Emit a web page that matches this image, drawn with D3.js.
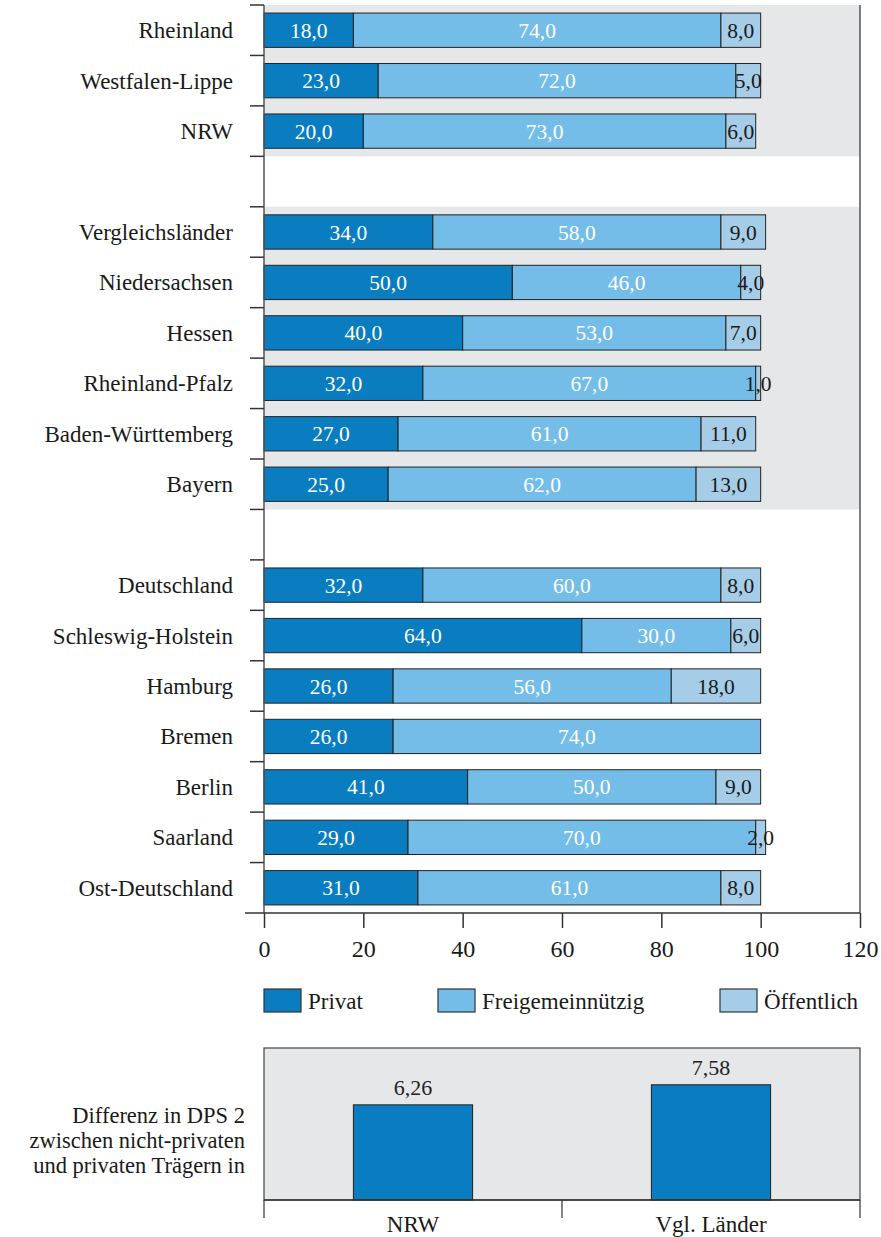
<!DOCTYPE html>
<html>
<head>
<meta charset="utf-8">
<script src="https://cdn.jsdelivr.net/npm/d3@7"></script>
<style>
  body { margin: 0; background: #fff; }
  svg text { font-family: "Liberation Serif", "Times New Roman", serif; }
</style>
</head>
<body>
<svg class="chart" width="881" height="1237"></svg>
<script>
// rows of the stacked chart, "" = empty spacer row
var categories = ["Rheinland", "Westfalen-Lippe", "NRW", "",
  "Vergleichsländer", "Niedersachsen", "Hessen", "Rheinland-Pfalz", "Baden-Württemberg", "Bayern", "",
  "Deutschland", "Schleswig-Holstein", "Hamburg", "Bremen", "Berlin", "Saarland", "Ost-Deutschland"];

var privat =     [18, 23, 20, null, 34, 50, 40, 32, 27, 25, null, 32, 64, 26, 26, 41, 29, 31];
var freigem =    [74, 72, 73, null, 58, 46, 53, 67, 61, 62, null, 60, 30, 56, 74, 50, 70, 61];
var oeffentlich = [8, 5, 6, null, 9, 4, 7, 1, 11, 13, null, 8, 6, 18, 0, 9, 2, 8];

var seriesNames = ["Privat", "Freigemeinnützig", "Öffentlich"];
var xTicks = [0, 20, 40, 60, 80, 100, 120];

// shaded groups (first and last row of each)
var shadedGroups = [["Rheinland", "NRW"], ["Vergleichsländer", "Bayern"]];

// lower chart
var diffCats = ["NRW", "Vgl. Länder"];
var diffValues = [6.26, 7.58];
var diffLabel = ["Differenz in DPS 2", "zwischen nicht-privaten", "und privaten Trägern in"];

var colors = ["#0a7dc0", "#74bde8", "#a6cde8"];
var fmt = function(v) { return v.toFixed(1).replace(".", ","); };

var svg = d3.select(".chart");

var pLeft = 264, pRight = 860, pTop = 5, pBottom = 913;

var x = d3.scaleLinear().domain([0, 120]).range([pLeft, pRight]);

var rowKeys = categories.map(function(d, i) { return i; });
var y = d3.scaleBand().domain(rowKeys).range([pTop, pBottom]).paddingInner(0.32).paddingOuter(0.16);
var step = y.step();
var rowTop = function(i) { return pTop + i * step; };

// grey backgrounds
shadedGroups.forEach(function(g) {
  var a = categories.indexOf(g[0]), b = categories.indexOf(g[1]);
  svg.append("rect")
    .attr("x", pLeft).attr("y", rowTop(a))
    .attr("width", pRight - pLeft).attr("height", rowTop(b + 1) - rowTop(a))
    .attr("fill", "#e6e7e9");
});

// stack data
var rows = categories.map(function(c, i) {
  return { name: c, i: i, vals: [privat[i], freigem[i], oeffentlich[i]] };
}).filter(function(d) { return d.name !== ""; });

var segs = [];
rows.forEach(function(r) {
  var acc = 0;
  r.vals.forEach(function(v, k) {
    segs.push({ i: r.i, k: k, x0: acc, x1: acc + v, v: v });
    acc += v;
  });
});

var seg = svg.selectAll("g.seg")
    .data(segs.filter(function(d) { return d.v > 0; }))
  .enter().append("g").attr("class", "seg");

seg.append("rect")
    .attr("x", function(d) { return x(d.x0); })
    .attr("y", function(d) { return y(d.i); })
    .attr("width", function(d) { return x(d.x1) - x(d.x0); })
    .attr("height", y.bandwidth())
    .attr("fill", function(d) { return colors[d.k]; })
    .attr("stroke", "#222")
    .attr("stroke-width", 1);

seg.append("text")
    .attr("x", function(d) { return (x(d.x0) + x(d.x1)) / 2; })
    .attr("y", function(d) { return y(d.i) + y.bandwidth() / 2; })
    .attr("dy", ".35em")
    .attr("text-anchor", "middle")
    .attr("font-size", 21.5)
    .attr("fill", function(d) { return d.k < 2 ? "#fff" : "#1a1a1a"; })
    .text(function(d) { return fmt(d.v); });

// category labels
svg.selectAll("text.cat")
    .data(rows)
  .enter().append("text")
    .attr("class", "cat")
    .attr("x", 233)
    .attr("y", function(d) { return y(d.i) + y.bandwidth() / 2; })
    .attr("dy", ".35em")
    .attr("text-anchor", "end")
    .attr("font-size", 23)
    .attr("fill", "#1a1a1a")
    .text(function(d) { return d.name; });

// left axis with ticks at row borders
svg.append("line").attr("x1", pLeft).attr("x2", pLeft).attr("y1", pTop).attr("y2", pBottom)
  .attr("stroke", "#555").attr("stroke-width", 1.5);
svg.append("line").attr("x1", pRight).attr("x2", pRight).attr("y1", pTop).attr("y2", pBottom)
  .attr("stroke", "#555").attr("stroke-width", 1.5);
svg.selectAll("line.rowtick")
    .data(d3.range(categories.length))
  .enter().append("line")
    .attr("x1", 250).attr("x2", pLeft)
    .attr("y1", function(i) { return rowTop(i); })
    .attr("y2", function(i) { return rowTop(i); })
    .attr("stroke", "#333").attr("stroke-width", 1.5);

// bottom axis
var xAxis = svg.append("g").attr("transform", "translate(0," + pBottom + ")")
  .call(d3.axisBottom(x).tickValues(xTicks).tickSize(15).tickPadding(12).tickFormat(d3.format("d")));
xAxis.select(".domain").remove();
xAxis.append("line").attr("x1", 245).attr("x2", pRight).attr("stroke", "#333").attr("stroke-width", 1.5);
xAxis.selectAll(".tick line").attr("stroke", "#333").attr("stroke-width", 1.5);
xAxis.selectAll(".tick text").attr("font-size", 24).attr("fill", "#1a1a1a")
  .attr("font-family", "Liberation Serif, serif");

// legend
var legendX = [264, 438, 720];
var lg = svg.selectAll("g.legend")
    .data(seriesNames)
  .enter().append("g").attr("class", "legend")
    .attr("transform", function(d, i) { return "translate(" + legendX[i] + ",989)"; });
lg.append("rect").attr("width", 37).attr("height", 23)
  .attr("fill", function(d, i) { return colors[i]; })
  .attr("stroke", "#333").attr("stroke-width", 1.2);
lg.append("text").attr("x", 44).attr("y", 12).attr("dy", ".35em")
  .attr("font-size", 23).attr("fill", "#1a1a1a")
  .text(function(d) { return d; });

// lower chart
var bTop = 1048, bBottom = 1200;
var bx = d3.scaleBand().domain(diffCats).range([pLeft, pRight]).paddingInner(0.6).paddingOuter(0.3);
var by = d3.scaleLinear().domain([0, 10]).range([bBottom, bTop]);

svg.append("rect").attr("x", pLeft).attr("y", bTop)
  .attr("width", pRight - pLeft).attr("height", bBottom - bTop)
  .attr("fill", "#e6e7e9").attr("stroke", "#444").attr("stroke-width", 1.2);

svg.selectAll("rect.diff")
    .data(diffValues)
  .enter().append("rect").attr("class", "diff")
    .attr("x", function(d, i) { return bx(diffCats[i]); })
    .attr("y", function(d) { return by(d); })
    .attr("width", bx.bandwidth())
    .attr("height", function(d) { return bBottom - by(d); })
    .attr("fill", colors[0]).attr("stroke", "#222").attr("stroke-width", 1);

svg.selectAll("text.diffval")
    .data(diffValues)
  .enter().append("text").attr("class", "diffval")
    .attr("x", function(d, i) { return bx(diffCats[i]) + bx.bandwidth() / 2; })
    .attr("y", function(d) { return by(d) - 10; })
    .attr("text-anchor", "middle")
    .attr("font-size", 22).attr("fill", "#222")
    .text(function(d) { return d.toFixed(2).replace(".", ","); });

svg.append("line").attr("x1", pLeft).attr("x2", pRight).attr("y1", bBottom).attr("y2", bBottom)
  .attr("stroke", "#333").attr("stroke-width", 1.5);
svg.selectAll("line.bt")
    .data([pLeft, (pLeft + pRight) / 2, pRight])
  .enter().append("line")
    .attr("x1", function(d) { return d; }).attr("x2", function(d) { return d; })
    .attr("y1", bBottom).attr("y2", bBottom + 18)
    .attr("stroke", "#333").attr("stroke-width", 1.2);

svg.selectAll("text.bcat")
    .data(diffCats)
  .enter().append("text").attr("class", "bcat")
    .attr("x", function(d) { return bx(d) + bx.bandwidth() / 2; })
    .attr("y", 1232)
    .attr("text-anchor", "middle")
    .attr("font-size", 23).attr("fill", "#1a1a1a")
    .text(function(d) { return d; });

svg.selectAll("text.dlab")
    .data(diffLabel)
  .enter().append("text").attr("class", "dlab")
    .attr("x", 245)
    .attr("y", function(d, i) { return 1123 + i * 25; })
    .attr("text-anchor", "end")
    .attr("font-size", 22.5).attr("fill", "#1a1a1a")
    .text(function(d) { return d; });
</script>
</body>
</html>
